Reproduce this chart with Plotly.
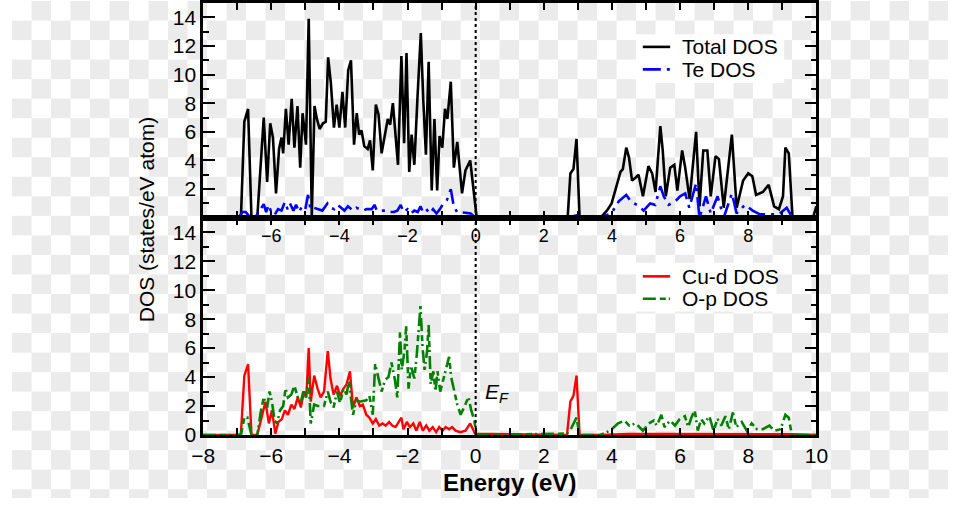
import zlib, struct, base64
import plotly.graph_objects as go

# ---------------- data ----------------
energy_total = [-8.0, -6.95, -6.89, -6.79, -6.68, -6.58, -6.41, -6.22, -6.12, -6.03, -5.95, -5.86, -5.77,
                -5.70, -5.65, -5.57, -5.49, -5.40, -5.32, -5.23, -5.15, -5.08, -4.98, -4.90, -4.81, -4.73,
                -4.66, -4.58, -4.48, -4.40, -4.33, -4.25, -4.16, -4.08, -4.00, -3.91, -3.83, -3.74, -3.66,
                -3.57, -3.49, -3.42, -3.35, -3.27, -3.17, -3.10, -3.02, -2.93, -2.85, -2.76, -2.66, -2.58,
                -2.51, -2.43, -2.36, -2.28, -2.18, -2.10, -2.03, -1.95, -1.88, -1.80, -1.71, -1.61, -1.54,
                -1.46, -1.38, -1.29, -1.21, -1.13, -1.06, -0.98, -0.90, -0.83, -0.73, -0.64, -0.54, -0.40,
                -0.30, -0.16, 0.03, 2.70, 2.78, 2.87, 2.96, 3.05, 3.66, 3.85, 3.99, 4.13, 4.25, 4.32, 4.42,
                4.50, 4.59, 4.69, 4.78, 4.91, 5.07, 5.18, 5.28, 5.42, 5.49, 5.58, 5.71, 5.83, 5.92, 6.06,
                6.15, 6.28, 6.47, 6.57, 6.68, 6.80, 6.90, 7.04, 7.14, 7.28, 7.52, 7.66, 7.85, 8.00, 8.12,
                8.23, 8.43, 8.60, 8.76, 8.90, 9.02, 9.09, 9.19, 9.30, 9.90, 10.0]
dos_total = [0, 0, 0, 6.7, 7.6, 0, 0, 7.0, 2.5, 6.6, 5.6, 1.7, 4.8,
             5.6, 4.5, 7.6, 5.1, 8.3, 4.9, 7.8, 3.5, 7.3, 5.1, 13.9, 0.1, 7.8,
             6.9, 6.2, 6.6, 6.7, 11.2, 9.4, 6.3, 7.9, 6.3, 8.8, 6.3, 10.3, 11.0,
             5.1, 7.3, 5.8, 6.1, 5.0, 4.8, 5.4, 3.3, 7.9, 7.2, 4.5, 5.7, 6.9,
             6.5, 8.0, 6.0, 3.7, 11.3, 5.2, 11.5, 3.2, 5.8, 3.7, 8.3, 12.9, 8.3,
             4.4, 10.9, 1.9, 6.9, 1.9, 5.7, 4.9, 7.6, 6.9, 9.5, 3.5, 5.3, 1.7,
             3.3, 4.0, 0, 0, 3.1, 3.4, 5.5, 0, 0, 0.5, 1.0, 2.1, 3.2, 3.4, 4.9,
             4.2, 2.6, 2.8, 3.0, 1.5, 3.6, 3.1, 1.8, 6.4, 4.7, 1.5, 3.5, 3.7, 1.9, 4.7,
             3.5, 1.3, 6.0, 0.8, 4.7, 4.7, 1.5, 4.3, 4.1, 0.7, 5.8, 0.7, 2.6, 3.1, 2.9,
             1.6, 1.8, 2.3, 0.8, 0.6, 1.5, 4.9, 4.5, 0, 0, 0.8]

energy_te = [-6.95, -6.85, -6.75, -6.6, -6.45, -6.3, -6.22, -6.15, -6.08, -6.0, -5.9, -5.8, -5.7, -5.6,
             -5.52, -5.45, -5.35, -5.27, -5.18, -5.1, -5.0, -4.92, -4.85, -4.75, -4.65, -4.5, -4.35,
             -4.25, -4.15, -4.05, -3.95, -3.85, -3.75, -3.6, -3.5, -3.4, -3.3, -3.2, -3.05, -2.97, -2.9,
             -2.75, -2.6, -2.5, -2.4, -2.3, -2.2, -2.12, -2.0, -1.9, -1.8, -1.7, -1.62, -1.55, -1.45,
             -1.35, -1.25, -1.15, -1.05, -0.95, -0.85, -0.73, -0.65, -0.55, -0.45, -0.3, -0.15, 0.0,
             2.70, 2.85, 3.0, 3.05, 3.6, 3.98, 4.2, 4.42, 4.55, 4.8, 4.93, 5.12, 5.27, 5.42, 5.52, 5.66,
             5.86, 6.0, 6.15, 6.27, 6.47, 6.57, 6.76, 6.9, 7.1, 7.28, 7.52, 7.66, 7.9, 8.13, 8.33,
             8.71, 8.9, 9.13, 9.3]
dos_te = [0, 0.4, 0.4, 0, 0.1, 0.6, 0.95, 0.4, 0.9, 0.4, 0.2, 0.6, 0.5, 1.1,
          0.6, 1.0, 0.5, 0.9, 0.4, 0.8, 0.6, 1.6, 0.6, 0.7, 0.6, 0.5, 1.0,
          0.7, 0.6, 0.9, 0.7, 0.5, 0.8, 0.5, 0.7, 0.6, 0.5, 0.6, 0.6, 0.9, 0.5,
          0.5, 0.5, 0.4, 0.4, 0.5, 0.9, 0.4, 0.6, 0.3, 0.5, 0.4, 0.8, 0.4, 0.6,
          0.3, 0.6, 0.3, 0.6, 1.0, 1.2, 2.0, 0.9, 0.4, 0.4, 0.35, 0.3, 0,
          0, 0.1, 0.2, 0, 0, 0.3, 1.15, 1.6, 1.15, 0.8, 0.5, 1.0, 0.9, 2.2, 1.5, 0.9,
          1.15, 1.5, 1.7, 0.7, 2.4, 0, 1.5, 0.3, 1.5, 0, 1.7, 0.3, 0.9, 0.5, 0.25,
          0.25, 0.25, 0.7, 0]

energy_cu = [-8.0, -6.95, -6.89, -6.79, -6.68, -6.58, -6.41, -6.27, -6.17, -6.07, -5.98, -5.88, -5.79,
             -5.69, -5.60, -5.51, -5.41, -5.32, -5.22, -5.13, -5.04, -4.97, -4.90, -4.84, -4.74, -4.64,
             -4.55, -4.45, -4.34, -4.26, -4.17, -4.07, -3.98, -3.88, -3.79, -3.69, -3.60, -3.50, -3.40,
             -3.31, -3.21, -3.12, -3.02, -2.93, -2.83, -2.73, -2.64, -2.54, -2.45, -2.35, -2.26, -2.18,
             -2.12, -2.02, -1.93, -1.83, -1.74, -1.64, -1.55, -1.45, -1.36, -1.26, -1.16, -1.07, -0.97,
             -0.88, -0.78, -0.69, -0.59, -0.45, -0.30, -0.16, -0.02, 2.68, 2.78, 2.87, 2.96, 3.05, 3.66,
             4.5, 5.5, 6.5, 7.5, 8.5, 9.3, 10.0]
dos_cu = [0, 0, 0.1, 4.1, 4.9, 0, 0, 1.4, 2.3, 0.8, 1.7, 0.1, 0.9,
          1.1, 1.7, 1.4, 2.1, 1.8, 2.6, 1.9, 3.0, 2.6, 6.0, 2.3, 4.1, 3.2,
          2.6, 3.0, 5.8, 3.9, 2.8, 3.4, 2.7, 3.2, 3.5, 4.4, 1.9, 2.6, 2.0,
          2.1, 1.4, 1.2, 0.8, 1.1, 0.65, 0.8, 0.65, 0.9, 0.65, 0.55, 0.9, 1.2,
          0.4, 0.9, 0.55, 0.8, 0.3, 0.9, 0.3, 0.65, 0.3, 0.55, 0.2, 0.55, 0.3,
          0.55, 0.4, 0.55, 0.3, 0.2, 0.3, 0.8, 0.1, 0, 2.3, 2.7, 4.1, 0, 0,
          0.08, 0.08, 0.08, 0.08, 0.08, 0.05, 0]

energy_op = [-8.0, -6.95, -6.89, -6.79, -6.70, -6.58, -6.41, -6.30, -6.22, -6.12, -6.05, -5.98, -5.90,
             -5.83, -5.74, -5.65, -5.58, -5.51, -5.41, -5.32, -5.22, -5.13, -5.06, -4.99, -4.90, -4.84,
             -4.74, -4.64, -4.45, -4.34, -4.26, -4.17, -4.07, -3.98, -3.88, -3.79, -3.72, -3.60, -3.50,
             -3.40, -3.21, -3.12, -3.02, -2.95, -2.85, -2.76, -2.66, -2.56, -2.47, -2.37, -2.30, -2.22,
             -2.17, -2.09, -2.04, -1.97, -1.90, -1.80, -1.73, -1.65, -1.62, -1.56, -1.50, -1.43, -1.38,
             -1.32, -1.24, -1.18, -1.12, -1.04, -0.95, -0.87, -0.78, -0.72, -0.63, -0.54, -0.44, -0.35,
             -0.21, -0.13, -0.04, 0.03, 2.68, 2.79, 2.96, 3.05, 3.66, 3.94, 4.18, 4.37, 4.51, 4.70, 4.91,
             5.08, 5.23, 5.32, 5.45, 5.54, 5.71, 5.85, 5.99, 6.14, 6.24, 6.33, 6.43, 6.52, 6.62, 6.71,
             6.86, 6.98, 7.10, 7.21, 7.33, 7.43, 7.55, 7.65, 7.81, 7.96, 8.10, 8.26, 8.43, 8.62, 8.76,
             8.95, 9.09, 9.19, 9.28, 10.0]
dos_op = [0, 0, 0, 1.2, 1.2, 0, 0, 1.7, 2.6, 1.9, 3.0, 2.3, 1.0,
          0.8, 1.7, 2.0, 3.2, 2.6, 2.8, 3.4, 2.6, 2.3, 3.0, 2.6, 4.0, 0.8,
          2.1, 2.0, 2.0, 3.0, 2.3, 1.9, 3.0, 2.2, 3.2, 2.8, 3.7, 1.4, 2.4,
          2.3, 2.4, 2.7, 1.4, 4.9, 4.0, 3.0, 3.8, 4.0, 5.0, 3.8, 2.6, 7.1,
          4.5, 5.8, 7.5, 3.2, 4.8, 3.9, 5.5, 7.7, 8.9, 6.1, 4.5, 5.7, 7.6,
          3.5, 4.4, 3.0, 4.4, 3.0, 3.9, 4.5, 5.4, 4.0, 3.0, 2.1, 1.4, 1.9,
          2.6, 1.7, 1.0, 0, 0.1, 0.4, 1.2, 0, 0, 0.3, 0.8, 1.0, 0.65, 0.8, 0.3,
          0.8, 1.0, 0.65, 1.4, 0.55, 1.0, 0.65, 1.1, 1.3, 0.55, 1.2, 1.7, 0.3, 1.1, 0.8,
          1.3, 0.3, 1.1, 0.65, 1.3, 0.4, 1.55, 0.55, 0.9, 0.3, 0.8, 0.4, 0.4, 0.65, 0.3,
          0.4, 1.4, 1.2, 0, 0]

x_range = [-8, 10]
y_range = [0, 15]
top_xticks = [-6, -4, -2, 0, 2, 4, 6, 8]
bottom_xticks = [-8, -6, -4, -2, 0, 2, 4, 6, 8, 10]
top_yticks = [2, 4, 6, 8, 10, 12, 14]
bottom_yticks = [0, 2, 4, 6, 8, 10, 12, 14]
minor_x = list(range(-8, 11))
minor_y = list(range(0, 16))

# ---------------- layout geometry ----------------
W, H = 960, 509
FONT = "Liberation Sans, Arial, Helvetica, sans-serif"
xd = [196 / W, 825 / W]
y_top = [(H - 222) / H, (H - 2) / H]
y_bot = [(H - 444.5) / H, (H - 222) / H]


def px(xp):
    return xp / W


def py(yp):
    return 1 - yp / H


# checkerboard backdrop (the transparent-image pattern seen in the reference)
def checker_png(w, h, cell, c1, c2):
    row_a = bytearray([0])
    row_b = bytearray([0])
    for x in range(w):
        odd = (x // cell) % 2
        row_a += bytes(c2 if odd else c1)
        row_b += bytes(c1 if odd else c2)
    raw = b"".join(bytes(row_a) if (y // cell) % 2 == 0 else bytes(row_b) for y in range(h))

    def chunk(t, d):
        return struct.pack(">I", len(d)) + t + d + struct.pack(">I", zlib.crc32(t + d) & 0xffffffff)
    png = (b"\x89PNG\r\n\x1a\n" + chunk(b"IHDR", struct.pack(">IIBBBBB", w, h, 8, 2, 0, 0, 0))
           + chunk(b"IDAT", zlib.compress(raw, 9)) + chunk(b"IEND", b""))
    return "data:image/png;base64," + base64.b64encode(png).decode()


bg_uri = checker_png(W, H, 20, (255, 255, 255), (235, 235, 235))

fig = go.Figure()

dash_te = "18px,6px,3px,6px"
dash_op = "13px,4px,6px,3px,2px,4px"

fig.add_trace(go.Scatter(x=energy_total, y=dos_total, mode="lines", name="Total DOS",
                         line=dict(color="black", width=2.6), xaxis="x", yaxis="y"))
fig.add_trace(go.Scatter(x=energy_te, y=dos_te, mode="lines", name="Te DOS",
                         line=dict(color="#0000ff", width=2.6, dash=dash_te), xaxis="x", yaxis="y"))
fig.add_trace(go.Scatter(x=energy_cu, y=dos_cu, mode="lines", name="Cu-d DOS",
                         line=dict(color="#ff0000", width=2.4), xaxis="x2", yaxis="y2"))
fig.add_trace(go.Scatter(x=energy_op, y=dos_op, mode="lines", name="O-p DOS",
                         line=dict(color="#008000", width=2.6, dash=dash_op), xaxis="x2", yaxis="y2"))

axis_common = dict(showline=True, linecolor="black", linewidth=2.5, mirror="allticks",
                   ticks="inside", tickcolor="black", tickwidth=2, showgrid=False, zeroline=False,
                   tickfont=dict(family=FONT, size=21, color="black"), fixedrange=True)

legend_items = [
    ("Total DOS", "black", "solid", 47),
    ("Te DOS", "#0000ff", dash_te, 70),
    ("Cu-d DOS", "#ff0000", "solid", 282),
    ("O-p DOS", "#008000", dash_op, 305),
]
shapes = [
    dict(type="rect", xref="paper", yref="paper", x0=px(640), x1=px(792), y0=py(84), y1=py(34),
         fillcolor="white", line=dict(width=0), layer="above"),
    dict(type="rect", xref="paper", yref="paper", x0=px(640), x1=px(784), y0=py(318), y1=py(268),
         fillcolor="white", line=dict(width=0), layer="above"),
]
annotations = []
for label, color, dash, yc in legend_items:
    shapes.append(dict(type="line", xref="paper", yref="paper", x0=px(647), x1=px(675),
                       y0=py(yc), y1=py(yc), line=dict(color=color, width=2.6, dash=dash), layer="above"))
    annotations.append(dict(text=label, xref="paper", yref="paper", x=px(685), y=py(yc),
                            xanchor="left", yanchor="middle", showarrow=False,
                            font=dict(family=FONT, size=21, color="black")))

shapes.append(dict(type="line", xref="x", yref="paper", x0=0, x1=0, y0=y_bot[0], y1=y_top[1],
                   line=dict(color="black", width=2, dash="dot"), layer="above"))

annotations += [
    dict(text="DOS (states/eV atom)", xref="paper", yref="paper", x=px(138), y=py(224),
         xanchor="center", yanchor="middle", textangle=-90, showarrow=False,
         font=dict(family=FONT, size=21, color="black")),
    dict(text="<b>Energy (eV)</b>", xref="paper", yref="paper", x=(xd[0] + xd[1]) / 2,
         y=py(493), xanchor="center", yanchor="middle", showarrow=False,
         font=dict(family=FONT, size=24, color="black")),
    dict(text="<i>E</i><sub><i>F</i></sub>", xref="x2", yref="y2", x=0.22, y=2.9,
         xanchor="left", yanchor="middle", showarrow=False, font=dict(family=FONT, size=21, color="black")),
]

fig.update_layout(
    width=W, height=H, margin=dict(l=0, r=0, t=0, b=0, pad=0),
    paper_bgcolor="white", plot_bgcolor="rgba(0,0,0,0)",
    font=dict(family=FONT, color="black"),
    showlegend=False,
    images=[dict(source=bg_uri, xref="paper", yref="paper", x=0, y=1, sizex=1, sizey=1,
                 sizing="stretch", xanchor="left", yanchor="top", layer="below")],
    xaxis=dict(axis_common, domain=xd, range=x_range, anchor="y", tickmode="array",
               tickvals=top_xticks, ticklen=7, tickfont=dict(family=FONT, size=18, color="black"),
               minor=dict(tickvals=minor_x, ticks="inside", ticklen=7, tickwidth=2, tickcolor="black")),
    yaxis=dict(axis_common, domain=y_top, range=y_range, anchor="x", tickmode="array",
               tickvals=top_yticks, ticklen=12,
               minor=dict(tickvals=minor_y, ticks="inside", ticklen=6, tickwidth=2, tickcolor="black")),
    xaxis2=dict(axis_common, domain=xd, range=x_range, anchor="y2", tickmode="array",
                tickvals=bottom_xticks, ticklen=7,
                minor=dict(tickvals=minor_x, ticks="inside", ticklen=7, tickwidth=2, tickcolor="black")),
    yaxis2=dict(axis_common, domain=y_bot, range=y_range, anchor="x2", tickmode="array",
                tickvals=bottom_yticks, ticklen=12,
                minor=dict(tickvals=minor_y, ticks="inside", ticklen=6, tickwidth=2, tickcolor="black")),
    shapes=shapes,
    annotations=annotations,
)

fig.write_html("out.html",
               post_script="document.body.style.margin='0';document.body.style.overflow='hidden';")
